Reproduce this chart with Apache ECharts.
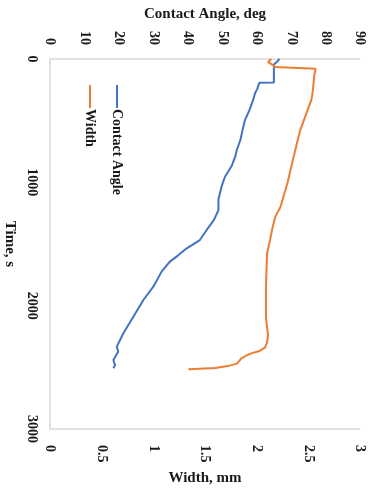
<!DOCTYPE html>
<html>
<head>
<meta charset="utf-8">
<script src="https://cdn.jsdelivr.net/npm/echarts@6/dist/echarts.min.js"></script>
<style>
  html, body { margin: 0; padding: 0; background: #fff; }
  #chart { width: 377px; height: 491px; }
</style>
</head>
<body>
<div id="chart"></div>
<script>
// Time (s) and contact angle (deg) samples
const angleTime = [0, 20, 45, 120, 190, 192, 240, 280, 330, 415, 495, 575, 655, 740, 790, 870, 955, 1035, 1140, 1225, 1305, 1386, 1468, 1535, 1590, 1643, 1724, 1846, 1954, 2089, 2224, 2332, 2373, 2441, 2481, 2508];
const angleValues = [66.6, 66.0, 65.0, 65.0, 65.0, 60.8, 60.2, 59.5, 59.0, 57.9, 56.6, 55.9, 55.3, 54.2, 53.8, 52.7, 50.8, 49.8, 48.9, 48.9, 47.6, 45.5, 43.5, 39.7, 37.3, 34.8, 32.4, 30.0, 27.1, 24.2, 21.3, 19.4, 19.8, 18.4, 18.9, 18.4];

// Time (s) and droplet width (mm) samples
const widthTime = [0, 25, 45, 65, 72, 80, 150, 250, 330, 580, 820, 1000, 1200, 1280, 1380, 1465, 1580, 1850, 2100, 2240, 2300, 2340, 2370, 2385, 2400, 2430, 2450, 2470, 2490, 2505, 2515];
const widthValues = [2.14, 2.11, 2.15, 2.18, 2.18, 2.57, 2.555, 2.545, 2.53, 2.42, 2.35, 2.30, 2.23, 2.18, 2.15, 2.13, 2.10, 2.09, 2.09, 2.11, 2.10, 2.08, 2.02, 1.955, 1.91, 1.85, 1.83, 1.81, 1.72, 1.60, 1.34];

// Axis ticks
const timeTicks = { min: 0, max: 3000, step: 1000 };
const angleTicks = { min: 0, max: 90, step: 10 };
const widthTicks = { min: 0, max: 3, step: 0.5 };

const seriesNames = ['Contact Angle', 'Width'];
const seriesColors = ['#4472C4', '#ED7D31'];

const FONT = '"Liberation Serif", "Times New Roman", serif';
const TEXT = '#1a1a1a';
const AXIS = '#d9d9d9';

const anglePairs = angleTime.map((t, i) => [angleValues[i], t]);
const widthPairs = widthTime.map((t, i) => [widthValues[i], t]);

const labelStyle = {
  rotate: -90,
  fontFamily: FONT,
  fontWeight: 'bold',
  fontSize: 14,
  color: TEXT,
  formatter: v => String(v)
};
const nameStyle = {
  fontFamily: FONT,
  fontWeight: 'bold',
  fontSize: 15,
  color: TEXT
};

const chart = echarts.init(document.getElementById('chart'), null, { renderer: 'canvas' });

chart.setOption({
  animation: false,
  backgroundColor: '#fff',
  grid: { left: 50, right: 17, top: 59, bottom: 62, containLabel: false, outerBoundsMode: 'none' },
  xAxis: [
    {
      type: 'value',
      position: 'top',
      min: angleTicks.min,
      max: angleTicks.max,
      interval: angleTicks.step,
      name: 'Contact Angle, deg',
      nameLocation: 'middle',
      nameGap: 37,
      nameTextStyle: nameStyle,
      axisLine: { show: true, lineStyle: { color: AXIS, width: 1.5 } },
      axisTick: { show: false },
      splitLine: { show: false },
      axisLabel: Object.assign({}, labelStyle, { margin: 14 })
    },
    {
      type: 'value',
      position: 'bottom',
      min: widthTicks.min,
      max: widthTicks.max,
      interval: widthTicks.step,
      name: 'Width, mm',
      nameLocation: 'middle',
      nameGap: 42,
      nameTextStyle: nameStyle,
      axisLine: { show: true, onZero: false, lineStyle: { color: AXIS, width: 1.5 } },
      axisTick: { show: false },
      splitLine: { show: false },
      axisLabel: Object.assign({}, labelStyle, { margin: 16 })
    }
  ],
  yAxis: {
    type: 'value',
    inverse: true,
    min: timeTicks.min,
    max: timeTicks.max,
    interval: timeTicks.step,
    name: 'Time, s',
    nameLocation: 'middle',
    nameRotate: -90,
    nameGap: 26,
    nameTextStyle: nameStyle,
    axisLine: { show: true, onZero: false, lineStyle: { color: AXIS, width: 1.5 } },
    axisTick: { show: false },
    splitLine: { show: false },
    axisLabel: Object.assign({}, labelStyle, { margin: 18, align: 'center', verticalAlign: 'middle' })
  },
  series: [
    {
      name: seriesNames[0],
      type: 'line',
      xAxisIndex: 0,
      yAxisIndex: 0,
      data: anglePairs,
      showSymbol: false,
      lineStyle: { color: seriesColors[0], width: 2 },
      itemStyle: { color: seriesColors[0] }
    },
    {
      name: seriesNames[1],
      type: 'line',
      xAxisIndex: 1,
      yAxisIndex: 0,
      data: widthPairs,
      showSymbol: false,
      lineStyle: { color: seriesColors[1], width: 2 },
      itemStyle: { color: seriesColors[1] }
    }
  ],
  // Legend drawn sideways, reading top to bottom
  graphic: seriesNames.map((name, i) => ({
    type: 'group',
    x: i === 0 ? 117 : 90,
    y: 85,
    children: [
      {
        type: 'line',
        shape: { x1: 0, y1: 0, x2: 0, y2: 23 },
        style: { stroke: seriesColors[i], lineWidth: 2 }
      },
      {
        type: 'text',
        x: 0,
        y: 24,
        rotation: -Math.PI / 2,
        style: {
          text: name,
          fill: TEXT,
          font: 'bold 14px ' + FONT,
          textAlign: 'left',
          textVerticalAlign: 'middle'
        }
      }
    ]
  }))
});
</script>
</body>
</html>
